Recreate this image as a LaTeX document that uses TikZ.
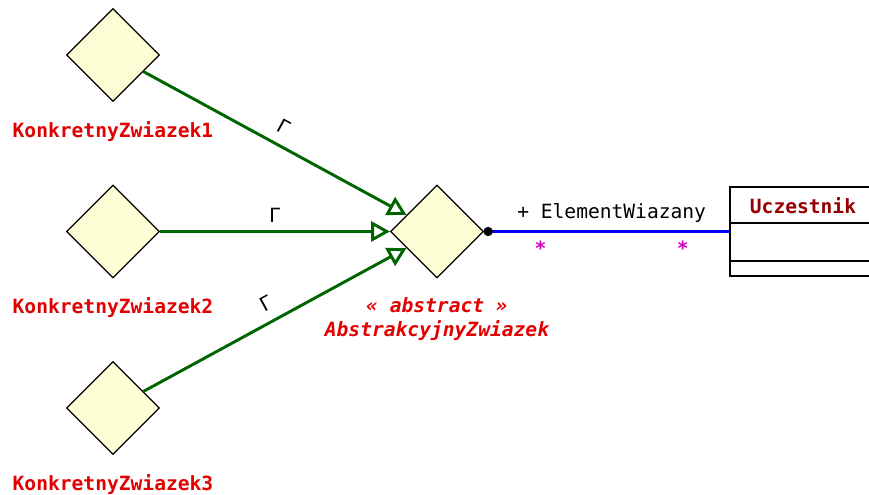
\documentclass[tikz,border=0pt]{standalone}
\usepackage{fontspec}
\setmonofont{DejaVu Sans Mono}
\usetikzlibrary{shapes.geometric, arrows.meta, positioning}
\definecolor{relfill}{RGB}{254,254,214}
\definecolor{namered}{RGB}{226,0,0}
\definecolor{classred}{RGB}{150,0,0}
\definecolor{gengreen}{RGB}{0,100,0}
\definecolor{multpink}{RGB}{210,0,190}

\begin{document}
\begin{tikzpicture}[x=0.75pt, y=-0.75pt,
  font=\ttfamily\fontsize{14.7}{18}\selectfont,
  relnode/.style={diamond, draw, line width=0.9pt, fill=relfill,
    minimum width=69.75pt, minimum height=69.75pt, inner sep=0pt},
  relname/.style={text=namered, font=\ttfamily\bfseries\fontsize{14.7}{18}\selectfont},
  gener/.style={draw=gengreen, line width=2.2pt,
    -{Triangle[open, length=14pt, width=15pt]}},
  assoc/.style={draw=blue, line width=2.2pt},
  mult/.style={text=multpink, font=\ttfamily\bfseries\fontsize{14.7}{18}\selectfont}]
  \useasboundingbox (0,0) rectangle (869,495);
  % relacje konkretne i abstrakcyjna
  \node[relnode] (konk1) at (113,55) {};
  \node[relnode] (konk2) at (113,231.5) {};
  \node[relnode] (konk3) at (113,408) {};
  \node[relnode] (abstr) at (437,231.5) {};
  % nazwy relacji
  \node[relname, below=11pt of konk1] (konk1name) {KonkretnyZwiazek1};
  \node[relname, below=11pt of konk2] (konk2name) {KonkretnyZwiazek2};
  \node[relname, below=11pt of konk3] (konk3name) {KonkretnyZwiazek3};
  \node[relname, below=11pt of abstr, align=center, font=\ttfamily\bfseries\itshape\fontsize{14.7}{18}\selectfont]
    (abstrname) {« abstract »\\AbstrakcyjnyZwiazek};
  % klasa Uczestnik
  \node[draw, line width=0.9pt, minimum width=109.5pt, minimum height=66.75pt] (ucz) at (803,231.5) {};
  \node[text=classred, font=\ttfamily\bfseries\fontsize{14.7}{18}\selectfont] (uczname) at (803,206) {Uczestnik};
  \draw[line width=0.9pt] (ucz.west |- 0,223) -- (ucz.east |- 0,223);
  \draw[line width=0.9pt] (ucz.west |- 0,261) -- (ucz.east |- 0,261);
  % generalizacje
  \draw[gener] (konk1) -- node[midway, above=4pt, sloped, text=black] {Γ} (abstr);
  \draw[gener] (konk2) -- node[midway, above=2pt, text=black] {Γ} (abstr);
  \draw[gener] (konk3) -- node[midway, above=4pt, sloped, text=black] {Γ} (abstr);
  % asocjacja
  \draw[assoc] (abstr.east) -- node[pos=0.52, above=2pt, text=black] {+ ElementWiazany}
    node[pos=0.23, below=3pt, mult] {*} node[pos=0.81, below=3pt, mult] {*} (ucz.west);
  \fill ([xshift=3pt]abstr.east) circle (3.5pt);
\end{tikzpicture}
\end{document}
